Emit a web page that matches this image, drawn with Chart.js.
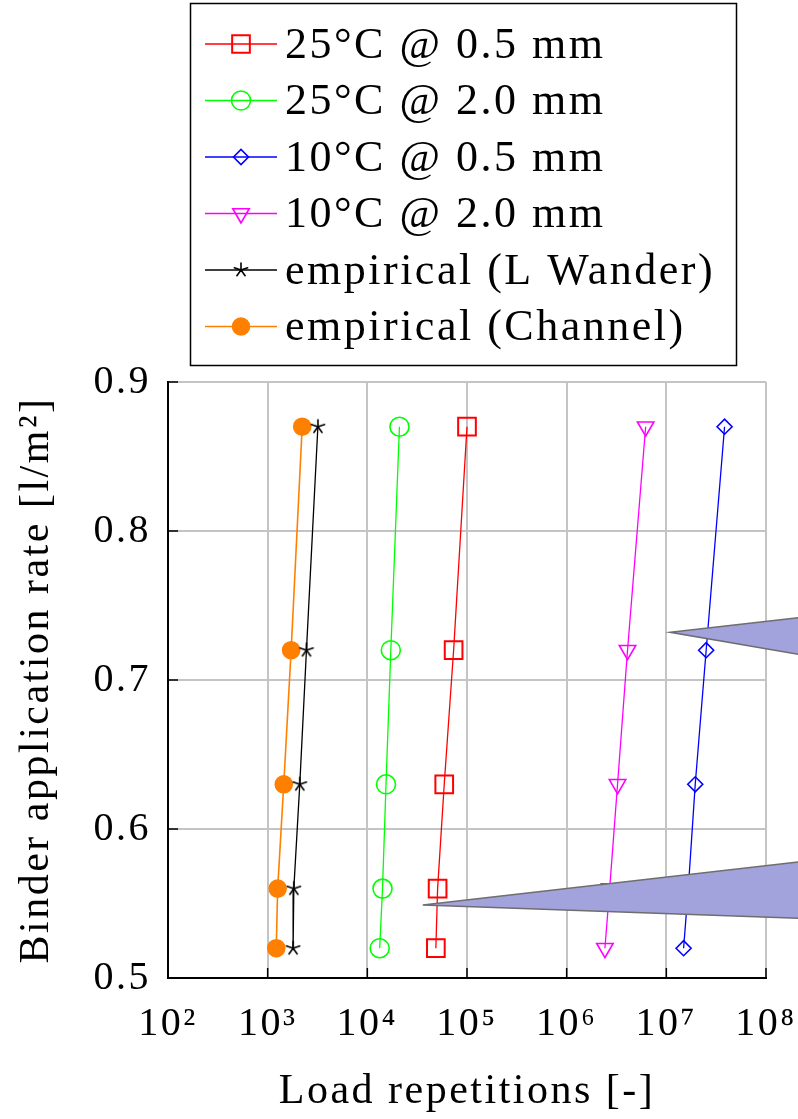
<!DOCTYPE html>
<html>
<head>
<meta charset="utf-8">
<script src="https://cdn.jsdelivr.net/npm/chart.js@4"></script>
<style>
html,body{margin:0;padding:0;background:#fff}
canvas{display:block}
</style>
</head>
<body>
<canvas id="c" width="798" height="1119"></canvas>
<script>
/* Data */
const rates = [0.87, 0.72, 0.63, 0.56, 0.52];
const reps25_05 = [100000, 73400, 59100, 50700, 48700];
const reps25_20 = [21000, 17200, 15400, 14200, 13300];
const reps10_05 = [38400000, 25100000, 19500000, 16600000, 14900000];
const reps10_20 = [6200000, 4080000, 3240000, 2700000, 2420000];
const repsWander = [3190, 2450, 2100, 1830, 1800];
const repsChannel = [2220, 1720, 1450, 1260, 1220];
const seriesLabels = ['25°C @ 0.5 mm', '25°C @ 2.0 mm', '10°C @ 0.5 mm', '10°C @ 2.0 mm', 'empirical (L Wander)', 'empirical (Channel)'];
const xTicks = [1e2, 1e3, 1e4, 1e5, 1e6, 1e7, 1e8];
const yTicks = [0.5, 0.6, 0.7, 0.8, 0.9];
const xTitle = 'Load repetitions [-]';
const yTitle = 'Binder application rate [l/m²]';
// callout wedges: tip (x, y) and the y values where they leave the right edge
const callouts = [
  {tipX: 1.1e7, tipY: 0.732, topY: 0.742, botY: 0.717},
  {tipX: 3.6e4, tipY: 0.549, topY: 0.578, botY: 0.540}
];

const SERIF = '"Liberation Serif", "DejaVu Serif", serif';
const SPACING = '2.5px';
const SUP = '⁰¹²³⁴⁵⁶⁷⁸⁹';

/* five pointed star marker like pgfplots' "star" */
function starMark(r, color){
  const cv = document.createElement('canvas');
  cv.width = cv.height = 2 * r + 4;
  const g = cv.getContext('2d');
  g.strokeStyle = color; g.lineWidth = 1.6; g.lineCap = 'round';
  g.beginPath();
  for (let k = 0; k < 5; k++) {
    const a = -Math.PI / 2 + k * 2 * Math.PI / 5;
    g.moveTo(r + 2, r + 2);
    g.lineTo(r + 2 + r * Math.cos(a), r + 2 + r * Math.sin(a));
  }
  g.stroke();
  return cv;
}

function pts(xs){ return rates.map((r,i)=>({x:xs[i], y:r})); }
function series(label, xs, color, style, radius, extra){
  return Object.assign({
    label, data: pts(xs), showLine: true,
    borderColor: color, borderWidth: 1.3,
    pointStyle: style, pointRadius: radius, pointHoverRadius: radius,
    pointBorderColor: color, pointBackgroundColor: 'rgba(0,0,0,0)', pointBorderWidth: 1.6
  }, extra || {});
}

const datasets = [
  series(seriesLabels[0], reps25_05, '#ff0000', 'rect', 12.5, {pointBorderWidth: 2}),
  series(seriesLabels[1], reps25_20, '#00ff00', 'circle', 9.5),
  series(seriesLabels[2], reps10_05, '#0000ff', 'rectRot', 7.5),
  series(seriesLabels[3], reps10_20, '#ff00ff', 'triangle', 9.5, {pointRotation: 180}),
  series(seriesLabels[4], repsWander, '#000000', starMark(7, '#000'), 7),
  series(seriesLabels[5], repsChannel, '#ff8000', 'circle', 8.5, {pointBackgroundColor: '#ff8000', borderWidth: 1.6})
];

/* letter spacing to get closer to the LaTeX font widths */
const spacing = {
  id: 'spacing',
  beforeUpdate(c){ c.ctx.letterSpacing = SPACING; },
  beforeDraw(c){ c.ctx.letterSpacing = SPACING; }
};

/* inward ticks on left and bottom axis */
const innerTicks = {
  id: 'innerTicks',
  afterDraw(c){
    const {ctx, chartArea: a, scales: {x, y}} = c;
    ctx.save();
    ctx.strokeStyle = '#000'; ctx.lineWidth = 1.5;
    ctx.beginPath();
    yTicks.forEach(v=>{ const py = y.getPixelForValue(v); ctx.moveTo(a.left, py); ctx.lineTo(a.left + 10, py); });
    xTicks.forEach(v=>{ const px = x.getPixelForValue(v); ctx.moveTo(px, a.bottom); ctx.lineTo(px, a.bottom - 10); });
    ctx.stroke();
    ctx.restore();
  }
};

/* wedge callouts */
const wedges = {
  id: 'wedges',
  afterDraw(c){
    const {ctx, width, scales: {x, y}} = c;
    ctx.save();
    ctx.fillStyle = '#a2a2dc'; ctx.strokeStyle = '#6e6e6e'; ctx.lineWidth = 1.5;
    callouts.forEach(w=>{
      ctx.beginPath();
      ctx.moveTo(x.getPixelForValue(w.tipX), y.getPixelForValue(w.tipY));
      ctx.lineTo(width + 2, y.getPixelForValue(w.topY));
      ctx.lineTo(width + 2, y.getPixelForValue(w.botY));
      ctx.closePath();
      ctx.fill(); ctx.stroke();
    });
    ctx.restore();
  }
};

/* boxed legend with line + marker samples */
const boxLegend = {
  id: 'boxLegend',
  afterDraw(c){
    const ctx = c.ctx;
    ctx.save();
    ctx.letterSpacing = SPACING;
    ctx.strokeStyle = '#000'; ctx.lineWidth = 1.5;
    ctx.strokeRect(190.5, 3.5, 546, 362);
    ctx.font = '44px ' + SERIF;
    ctx.textBaseline = 'middle'; ctx.textAlign = 'left';
    c.data.datasets.forEach((d, i)=>{
      const cy = 44 + i * 56.5;
      ctx.strokeStyle = d.borderColor; ctx.lineWidth = 1.5;
      ctx.beginPath(); ctx.moveTo(205, cy); ctx.lineTo(277, cy); ctx.stroke();
      ctx.fillStyle = d.pointBackgroundColor; ctx.strokeStyle = d.pointBorderColor;
      ctx.lineWidth = d.pointBorderWidth;
      Chart.helpers.drawPoint(ctx, {pointStyle: d.pointStyle, rotation: d.pointRotation || 0,
        radius: d.pointRadius, borderWidth: d.pointBorderWidth}, 241, cy);
      ctx.fillStyle = '#000';
      ctx.fillText(d.label, 285, cy + 2);
    });
    ctx.restore();
  }
};

new Chart(document.getElementById('c'), {
  type: 'scatter',
  data: {datasets},
  options: {
    responsive: false,
    animation: false,
    devicePixelRatio: 1,
    layout: {padding: {top: 382, right: 32, left: 0, bottom: 0}},
    plugins: {legend: {display: false}, tooltip: {enabled: false}},
    scales: {
      x: {
        type: 'logarithmic', min: 1e2, max: 1e8,
        afterBuildTicks: s=>{ s.ticks = xTicks.map(v=>({value: v})); },
        afterFit: s=>{ s.height = 141; s.paddingLeft = 0; s.paddingRight = 0; },
        grid: {color: '#c4c4c4', lineWidth: 2, drawTicks: false},
        border: {color: '#000', width: 2},
        ticks: {
          padding: 22, color: '#000', font: {family: SERIF, size: 40},
          maxRotation: 0, autoSkip: false,
          callback: v=>{ const e = Math.round(Math.log10(v)); return '10' + SUP[e]; }
        },
        title: {display: true, text: xTitle, color: '#000', font: {family: SERIF, size: 42}, padding: {top: 0, bottom: 2}}
      },
      y: {
        type: 'linear', min: 0.5, max: 0.9,
        afterBuildTicks: s=>{ s.ticks = yTicks.map(v=>({value: v})); },
        afterFit: s=>{ s.width = 168; s.paddingTop = 0; s.paddingBottom = 0; },
        grid: {color: '#c4c4c4', lineWidth: 2, drawTicks: false},
        border: {color: '#000', width: 2},
        ticks: {
          padding: 17, color: '#000', font: {family: SERIF, size: 40},
          callback: v=>v.toFixed(1)
        },
        title: {display: true, text: yTitle, color: '#000', font: {family: SERIF, size: 42}, padding: {top: 12, bottom: 0}}
      }
    }
  },
  plugins: [spacing, innerTicks, wedges, boxLegend]
});
</script>
</body>
</html>
